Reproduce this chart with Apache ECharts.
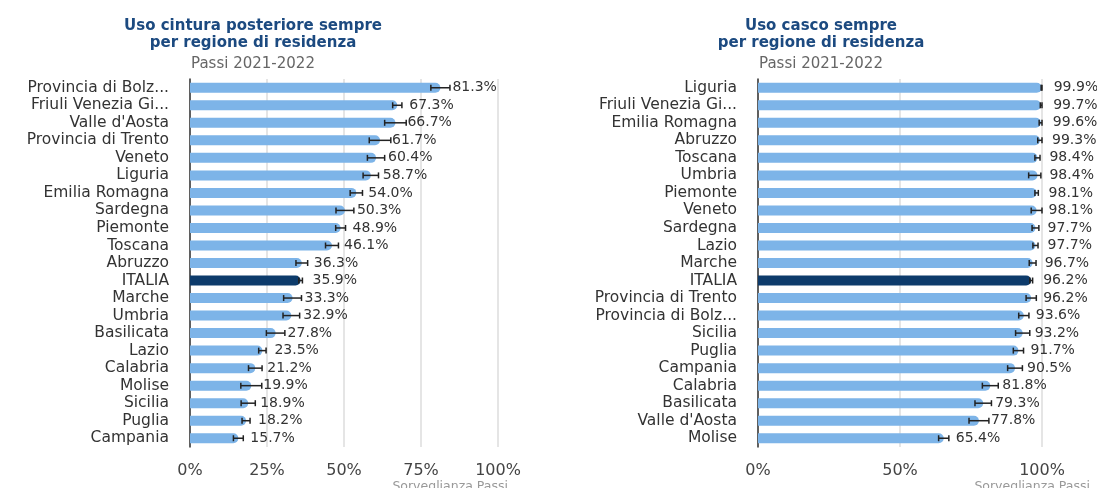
<!DOCTYPE html>
<html>
<head>
<meta charset="utf-8">
<title>Uso cintura e casco per regione</title>
<script src="https://cdn.jsdelivr.net/npm/echarts@6/dist/echarts.min.js"></script>
<style>
  html, body { margin: 0; padding: 0; background: #fff; }
  #chart { width: 1097px; height: 488px; }
</style>
</head>
<body>
<div id="chart"></div>
<script>
// cintura posteriore
const beltRegions = ['Provincia di Bolzano', 'Friuli Venezia Giulia', "Valle d'Aosta", 'Provincia di Trento', 'Veneto',
  'Liguria', 'Emilia Romagna', 'Sardegna', 'Piemonte', 'Toscana', 'Abruzzo', 'ITALIA', 'Marche', 'Umbria',
  'Basilicata', 'Lazio', 'Calabria', 'Molise', 'Sicilia', 'Puglia', 'Campania'];
const beltValues = [81.3, 67.3, 66.7, 61.7, 60.4, 58.7, 54.0, 50.3, 48.9, 46.1, 36.3, 35.9, 33.3, 32.9, 27.8, 23.5, 21.2, 19.9, 18.9, 18.2, 15.7];
const beltLow = [78.2, 65.8, 63.2, 58.2, 57.6, 56.2, 52.0, 47.4, 47.3, 44.0, 34.4, 35.3, 30.4, 30.2, 24.8, 22.3, 19.0, 16.5, 16.6, 16.9, 14.1];
const beltHigh = [84.4, 68.8, 70.2, 65.2, 63.2, 61.2, 56.0, 53.2, 50.5, 48.2, 38.2, 36.5, 36.2, 35.6, 30.8, 24.7, 23.4, 23.3, 21.2, 19.5, 17.3];
const beltTicks = [0, 25, 50, 75, 100];

// casco
const helmetRegions = ['Liguria', 'Friuli Venezia Giulia', 'Emilia Romagna', 'Abruzzo', 'Toscana', 'Umbria', 'Piemonte',
  'Veneto', 'Sardegna', 'Lazio', 'Marche', 'ITALIA', 'Provincia di Trento', 'Provincia di Bolzano', 'Sicilia',
  'Puglia', 'Campania', 'Calabria', 'Basilicata', "Valle d'Aosta", 'Molise'];
const helmetValues = [99.9, 99.7, 99.6, 99.3, 98.4, 98.4, 98.1, 98.1, 97.7, 97.7, 96.7, 96.2, 96.2, 93.6, 93.2, 91.7, 90.5, 81.8, 79.3, 77.8, 65.4];
const helmetLow = [99.7, 99.4, 99.0, 98.5, 97.5, 95.3, 97.5, 96.2, 96.5, 96.8, 95.5, 95.7, 94.4, 91.8, 90.7, 89.9, 87.9, 79.0, 76.4, 74.3, 63.6];
const helmetHigh = [100, 100, 100, 100, 99.3, 99.6, 98.7, 100, 98.9, 98.6, 97.9, 96.7, 98.0, 95.4, 95.7, 93.5, 93.1, 84.6, 82.2, 81.3, 67.2];
const helmetTicks = [0, 50, 100];

const FONT = '"DejaVu Sans", "Liberation Sans", Arial, sans-serif';
const LIGHT = '#7db4e8';
const DARK = '#0d3b6b';

function shortName(name) {
  return name.length > 19 ? name.slice(0, 17) + '...' : name;
}

function barData(regions, values) {
  return values.map((v, i) => ({
    value: v,
    itemStyle: { color: regions[i] === 'ITALIA' ? DARK : LIGHT },
  }));
}

function errData(low, high) {
  return low.map((l, i) => [l, high[i], i]);
}

function renderError(params, api) {
  const idx = api.value(2);
  const p1 = api.coord([api.value(0), idx]);
  const p2 = api.coord([api.value(1), idx]);
  const h = 3;
  const style = { stroke: '#222', lineWidth: 1.5 };
  return {
    type: 'group',
    children: [
      { type: 'line', shape: { x1: p1[0], y1: p1[1], x2: p2[0], y2: p2[1] }, style },
      { type: 'line', shape: { x1: p1[0], y1: p1[1] - h, x2: p1[0], y2: p1[1] + h }, style },
      { type: 'line', shape: { x1: p2[0], y1: p2[1] - h, x2: p2[0], y2: p2[1] + h }, style },
    ],
  };
}

function xAxisFor(gridIndex, ticks) {
  return {
    type: 'value',
    gridIndex,
    min: 0,
    max: 100,
    interval: ticks[1] - ticks[0],
    axisLine: { show: false },
    axisTick: { show: false },
    splitLine: { lineStyle: { color: '#dcdcdc', width: 1.5 } },
    axisLabel: {
      margin: 16,
      color: '#444',
      fontSize: 16,
      fontFamily: FONT,
      formatter: (v) => v + '%',
    },
  };
}

function yAxisFor(gridIndex, regions) {
  return {
    type: 'category',
    gridIndex,
    inverse: true,
    data: regions,
    axisLine: { show: true, lineStyle: { color: '#333', width: 1.5 } },
    axisTick: { show: false },
    axisLabel: {
      interval: 0,
      margin: 21,
      color: '#333',
      fontSize: 15.5,
      fontFamily: FONT,
      formatter: shortName,
    },
  };
}

function barSeries(index, regions, values) {
  return {
    type: 'bar',
    xAxisIndex: index,
    yAxisIndex: index,
    data: barData(regions, values),
    barWidth: 10,
    itemStyle: { borderRadius: [0, 5, 5, 0] },
    label: {
      show: true,
      position: 'right',
      distance: 12,
      color: '#333',
      fontSize: 14,
      fontFamily: FONT,
      formatter: (p) => p.value.toFixed(1) + '%',
    },
    silent: true,
  };
}

function errSeries(index, low, high) {
  return {
    type: 'custom',
    xAxisIndex: index,
    yAxisIndex: index,
    data: errData(low, high),
    renderItem: renderError,
    z: 5,
    silent: true,
  };
}

function titleBlock(x, text) {
  return [
    {
      text,
      left: x,
      top: 13,
      textAlign: 'center',
      textStyle: { color: '#1c4a80', fontSize: 15, fontWeight: 'bold', fontFamily: FONT, lineHeight: 17 },
    },
    {
      text: 'Passi 2021-2022',
      left: x,
      top: 52,
      textAlign: 'center',
      textStyle: { color: '#666', fontSize: 15, fontWeight: 'normal', fontFamily: FONT },
    },
    {
      text: 'Sorveglianza Passi',
      right: x < 500 ? 584 : 2,
      top: 475,
      textStyle: { color: '#999', fontSize: 12.5, fontWeight: 'normal', fontFamily: FONT },
    },
  ];
}

const chart = echarts.init(document.getElementById('chart'));
chart.setOption({
  animation: false,
  title: [
    ...titleBlock(248, 'Uso cintura posteriore sempre\nper regione di residenza'),
    ...titleBlock(816, 'Uso casco sempre\nper regione di residenza'),
  ],
  grid: [
    { left: 190, width: 308, top: 79, height: 368 },
    { left: 758, width: 284, top: 79, height: 368 },
  ],
  xAxis: [xAxisFor(0, beltTicks), xAxisFor(1, helmetTicks)],
  yAxis: [yAxisFor(0, beltRegions), yAxisFor(1, helmetRegions)],
  series: [
    barSeries(0, beltRegions, beltValues),
    errSeries(0, beltLow, beltHigh),
    barSeries(1, helmetRegions, helmetValues),
    errSeries(1, helmetLow, helmetHigh),
  ],
});
</script>
</body>
</html>
